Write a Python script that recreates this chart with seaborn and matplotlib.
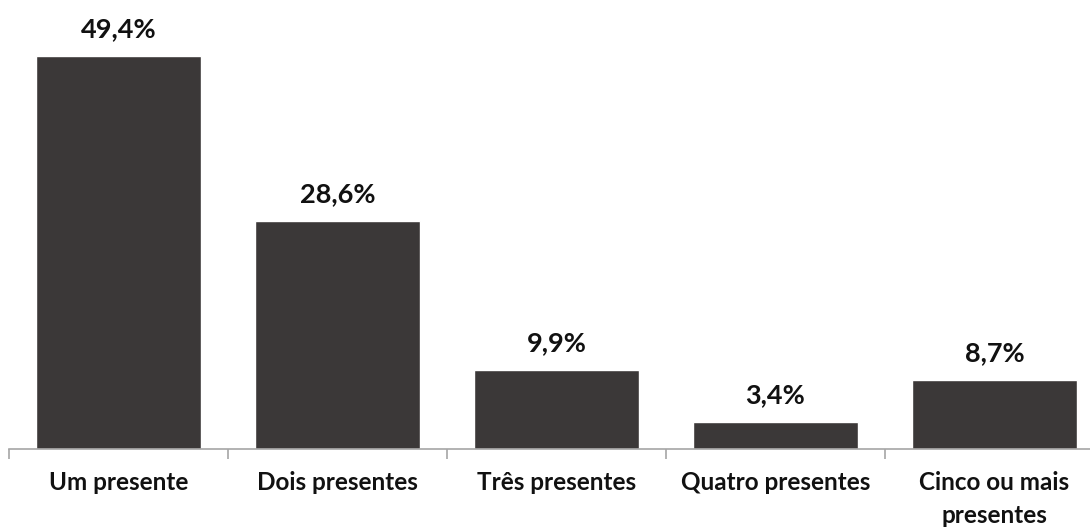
import matplotlib
matplotlib.use("Agg")
import matplotlib.pyplot as plt
from matplotlib.ticker import FixedLocator
import seaborn as sns
import pandas as pd

categories = ["Um presente", "Dois presentes", "Três presentes",
              "Quatro presentes", "Cinco ou mais\npresentes"]
values = [49.4, 28.6, 9.9, 3.4, 8.7]
value_labels = ["49,4%", "28,6%", "9,9%", "3,4%", "8,7%"]

df = pd.DataFrame({"categoria": categories, "valor": values})

sns.set_theme(style="white")
plt.rcParams["font.family"] = ["Lato", "DejaVu Sans"]

W, H = 1090, 527
fig = plt.figure(figsize=(W / 100, H / 100), dpi=100)
# axes spans slightly past the right edge so the last category slot is full width
ax = fig.add_axes([9 / W, 78 / H, 1095 / W, 449 / H])

sns.barplot(data=df, x="categoria", y="valor", color="#3b3838",
            width=0.75, saturation=1, ax=ax)

ax.set_xlim(-0.5, 4.5)
ax.set_ylim(0, 449 / 7.955)

for i, (v, lab) in enumerate(zip(values, value_labels)):
    ax.annotate(lab, (i, v), xytext=(0, 19), textcoords="offset pixels",
                ha="center", va="baseline", fontsize=19.5, fontweight="bold",
                color="#111111")

for s in ["top", "right", "left"]:
    ax.spines[s].set_visible(False)
ax.spines["bottom"].set_color("#a6a6a6")
ax.spines["bottom"].set_linewidth(1.2)

ax.set_yticks([])
ax.set_xlabel("")
ax.set_ylabel("")
ax.tick_params(axis="x", which="major", length=0, pad=16)
ax.xaxis.set_minor_locator(FixedLocator([-0.5, 0.5, 1.5, 2.5, 3.5, 4.5]))
ax.tick_params(axis="x", which="minor", length=7, width=1.2, color="#a6a6a6",
               bottom=True)
for t in ax.get_xticklabels():
    t.set_fontsize(17.5)
    t.set_fontweight("bold")
    t.set_color("#111111")
    t.set_verticalalignment("top")
    t.set_linespacing(1.5)

fig.savefig("out.png", dpi=100)
